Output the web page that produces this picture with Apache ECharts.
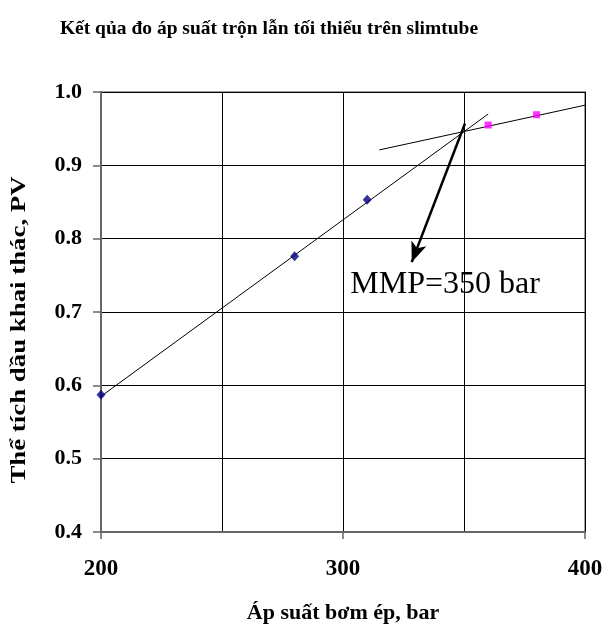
<!DOCTYPE html>
<html>
<head>
<meta charset="utf-8">
<script src="https://cdn.jsdelivr.net/npm/echarts@6/dist/echarts.min.js"></script>
<style>
  html, body { margin: 0; padding: 0; background: #fff; }
  #chart_id { width: 605px; height: 626px; }
</style>
</head>
<body>
<div id="chart_id"></div>
<script>
// số liệu đo
var diem_truoc = [[200, 0.587], [280, 0.776], [310, 0.853]];
var diem_sau = [[360, 0.955], [380, 0.969]];
var duong_1 = [[200, 0.585], [360, 0.970]];
var duong_2 = [[315, 0.921], [400, 0.982]];
var mui_ten = [[350.4, 0.957], [328.4, 0.768]];
var nhan_mmp = [303, 0.738];
var x_ticks = [200, 300, 400];
var y_ticks = [0.4, 0.5, 0.6, 0.7, 0.8, 0.9, 1.0];

var fontSerif = '"Liberation Serif", "DejaVu Serif", serif';

var myChart = echarts.init(document.getElementById('chart_id'));

var option = {
    backgroundColor: '#fff',
    animation: false,
    title: {
        text: 'Kết qủa đo áp suất trộn lẫn tối thiểu trên slimtube',
        left: 264,
        top: 14,
        textAlign: 'center',
        textStyle: { fontFamily: fontSerif, fontWeight: 'bold', fontSize: 19.5, color: '#000' }
    },
    grid: {
        left: 101, right: 20, top: 92, bottom: 94,
        outerBoundsMode: 'none',
        containLabel: false,
        show: true, borderColor: '#808080', borderWidth: 1.5
    },
    xAxis: {
        type: 'value',
        min: x_ticks[0], max: x_ticks[x_ticks.length - 1], interval: 100,
        name: 'Áp suất bơm ép, bar',
        nameLocation: 'middle',
        nameGap: 70,
        nameTextStyle: { fontFamily: fontSerif, fontWeight: 'bold', fontSize: 22, color: '#000' },
        axisLine: { lineStyle: { color: '#666', width: 2 } },
        axisTick: { show: true, inside: false, length: 7, lineStyle: { color: '#666', width: 1.5 } },
        axisLabel: {
            margin: 26,
            fontFamily: fontSerif, fontWeight: 'bold', fontSize: 23, color: '#000',
            formatter: function (v) { return x_ticks.indexOf(v) >= 0 ? String(v) : ''; }
        },
        splitLine: { show: true, lineStyle: { color: '#000', width: 1 } },
        minorTick: { show: false, splitNumber: 2 },
        minorSplitLine: { show: true, lineStyle: { color: '#000', width: 1 } }
    },
    yAxis: {
        type: 'value',
        min: y_ticks[0], max: y_ticks[y_ticks.length - 1], interval: 0.1,
        axisLine: { show: true, lineStyle: { color: '#666', width: 2 } },
        axisTick: { show: true, inside: false, length: 8, lineStyle: { color: '#666', width: 1.5 } },
        axisLabel: {
            margin: 19,
            fontFamily: fontSerif, fontWeight: 'bold', fontSize: 22, color: '#000',
            formatter: function (v) { return v.toFixed(1); }
        },
        splitLine: { show: true, lineStyle: { color: '#000', width: 1 } }
    },
    graphic: [{
        type: 'text',
        x: 19, y: 330,
        rotation: Math.PI / 2,
        scaleX: 1.22,
        style: {
            text: 'Thể tích dầu khai thác, PV',
            fontFamily: fontSerif, fontWeight: 'bold', fontSize: 22, fill: '#000',
            align: 'center', verticalAlign: 'middle'
        }
    }],
    series: [{
        type: 'line',
        data: duong_1,
        symbol: 'none',
        lineStyle: { color: '#000', width: 1 },
        z: 3
    }, {
        type: 'line',
        data: duong_2,
        symbol: 'none',
        lineStyle: { color: '#000', width: 1 },
        z: 3
    }, {
        type: 'scatter',
        data: diem_truoc,
        symbol: 'diamond',
        symbolSize: [9, 10],
        itemStyle: { color: '#000080' },
        z: 5
    }, {
        type: 'scatter',
        data: diem_sau,
        symbol: 'rect',
        symbolSize: 7,
        itemStyle: { color: '#ff00ff' },
        z: 5
    }, {
        type: 'line',
        data: [],
        markLine: {
            silent: true,
            symbol: ['none', 'arrow'],
            symbolSize: [12, 20],
            label: { show: false },
            lineStyle: { color: '#000', width: 2.5, type: 'solid' },
            data: [[{ coord: mui_ten[0] }, { coord: mui_ten[1] }]]
        },
        markPoint: {
            silent: true,
            symbol: 'circle',
            symbolSize: 0,
            label: {
                show: true,
                position: 'right',
                distance: 0,
                formatter: 'MMP=350 bar',
                fontFamily: fontSerif, fontSize: 32, color: '#000'
            },
            data: [{ coord: nhan_mmp }]
        },
        z: 6
    }]
};

myChart.setOption(option);
</script>
</body>
</html>
